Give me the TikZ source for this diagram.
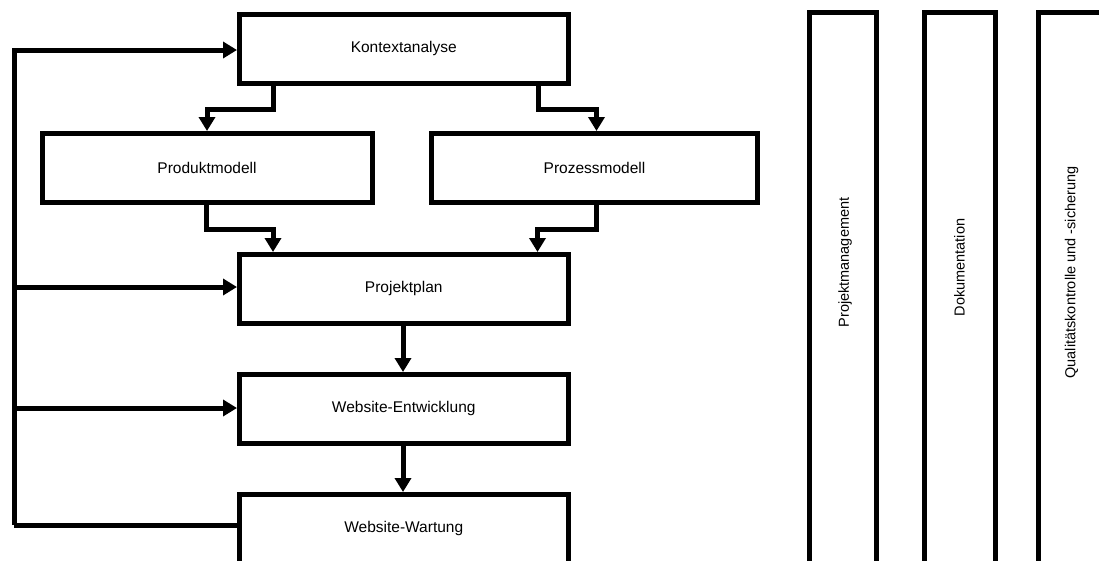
\documentclass[tikz,border=0pt]{standalone}
\usepackage{fontspec}
\setmainfont{Liberation Sans}
\usetikzlibrary{arrows.meta}
\begin{document}
\begin{tikzpicture}[x=1pt,y=-1pt,
  box/.style={draw=black, line width=5pt, rectangle, inner sep=0pt,
    font=\fontsize{15.5}{18}\selectfont},
  bar/.style={draw=black, line width=5pt, rectangle, inner sep=0pt},
  vlabel/.style={rotate=90, inner sep=0pt, font=\fontsize{14.5}{17}\selectfont},
  link/.style={line width=5pt, -{Triangle[length=14pt,width=16pt]}},
  plain/.style={line width=5pt}]
\path[use as bounding box, clip] (0,0) rectangle (1099,560);
\fill[white] (0,0) rectangle (1099,560);

% process chain
\node[box, minimum width=328.5, minimum height=68.5] (K) at (403.75,48.75) {Kontextanalyse};
\node[box, minimum width=330, minimum height=69] (Prod) at (207,168) {Produktmodell};
\node[box, minimum width=326, minimum height=69] (Proz) at (594.5,168) {Prozessmodell};
\node[box, minimum width=328.5, minimum height=68.5] (Plan) at (403.75,288.75) {Projektplan};
\node[box, minimum width=328.5, minimum height=68.5] (Entw) at (403.75,408.75) {Website-Entwicklung};
\node[box, minimum width=328.5, minimum height=68.5] (Wart) at (403.75,528.75) {Website-Wartung};

% cross-cutting activities
\node[bar, minimum width=67, minimum height=553] (PM) at (843,288.5) {};
\node[bar, minimum width=71, minimum height=553] (Doku) at (959.5,288.5) {};
\node[bar, minimum width=66, minimum height=553] (QS) at (1071,288.5) {};
\node[vlabel] (tPM) at (845,262.5) {Projektmanagement};
\node[vlabel] (tDoku) at (959.5,267.5) {Dokumentation};
\node[vlabel] (tQS) at (1071.5,272.5) {Qualitätskontrolle und -sicherung};

% forward links
\draw[link] (K.south -| 273,0) -- (273,109.5) -| (Prod.north);
\draw[link] (K.south -| 538,0) -- (538,109.5) -| (Proz.north -| 596.5,0);
\draw[link] (Prod.south -| 206.5,0) -- (206.5,229) -| (Plan.north -| 273,0);
\draw[link] (Proz.south -| 596.5,0) -- (596.5,229) -| (Plan.north -| 537.5,0);
\draw[link] (Plan.south -| 403,0) -- (Entw.north -| 403,0);
\draw[link] (Entw.south -| 403,0) -- (Wart.north -| 403,0);

% feedback rail
\coordinate (rail) at (14,525);
\draw[plain] (Wart.west |- rail) -- (rail);
\draw[link] (rail) -- (rail |- 0,50) -- (K.west |- 0,50);
\draw[link] (rail |- 0,287) -- (Plan.west |- 0,287);
\draw[link] (rail |- 0,408) -- (Entw.west |- 0,408);
\end{tikzpicture}
\end{document}
